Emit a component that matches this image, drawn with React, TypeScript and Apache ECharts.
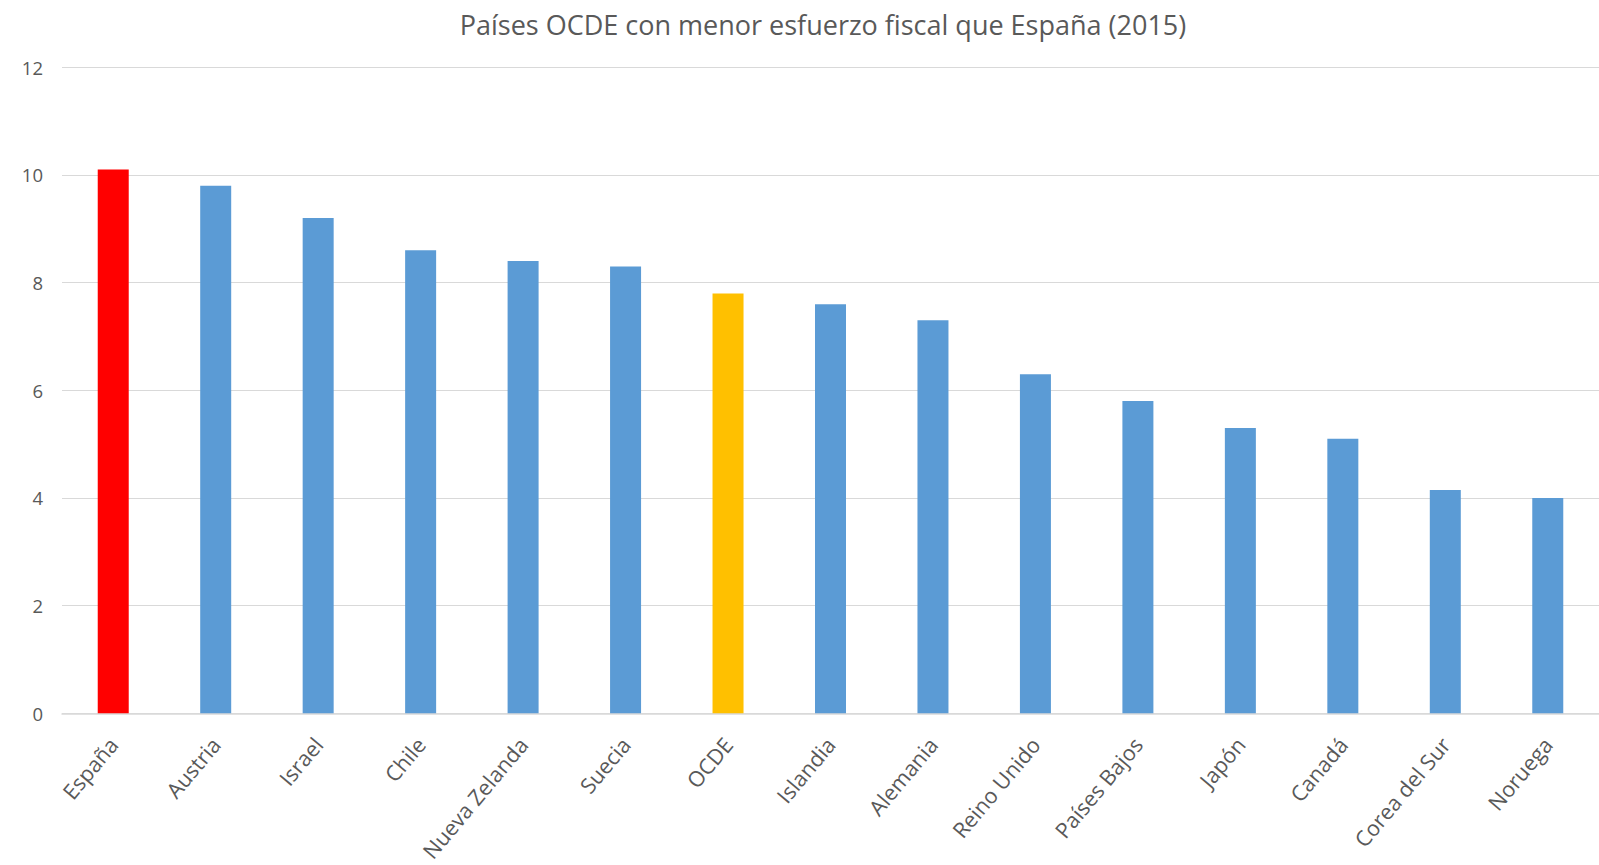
import React, { useEffect, useRef } from "react";
import * as echarts from "echarts";

const TITLE = "Países OCDE con menor esfuerzo fiscal que España (2015)";
const categories = [
  "España", "Austria", "Israel", "Chile", "Nueva Zelanda", "Suecia", "OCDE",
  "Islandia", "Alemania", "Reino Unido", "Países Bajos", "Japón", "Canadá",
  "Corea del Sur", "Noruega",
];
const values = [10.1, 9.8, 9.2, 8.6, 8.4, 8.3, 7.8, 7.6, 7.3, 6.3, 5.8, 5.3, 5.1, 4.15, 4.0];
const barColors = [
  "#ff0000", "#5b9bd5", "#5b9bd5", "#5b9bd5", "#5b9bd5", "#5b9bd5", "#ffc000",
  "#5b9bd5", "#5b9bd5", "#5b9bd5", "#5b9bd5", "#5b9bd5", "#5b9bd5", "#5b9bd5", "#5b9bd5",
];
const yMin = 0;
const yMax = 12;
const yStep = 2;

export default function App() {
  const ref = useRef<HTMLDivElement>(null);
  useEffect(() => {
    if (!ref.current) return;
    const chart = echarts.init(ref.current, undefined, { renderer: "svg" });
    chart.setOption({
      animation: false,
      backgroundColor: "#ffffff",
      title: {
        text: TITLE,
        left: 818,
        top: 6,
        textAlign: "center",
        textStyle: {
          fontFamily: "Open Sans",
          fontSize: 27,
          fontWeight: "normal",
          color: "#595959",
        },
      },
      grid: { left: 62, right: -14, top: 67.3, bottom: 151.7, containLabel: false },
      xAxis: {
        type: "category",
        data: categories,
        axisLine: { show: true, lineStyle: { color: "#d9d9d9", width: 1.5 } },
        axisTick: { show: false },
        axisLabel: {
          rotate: 50,
          interval: 0,
          margin: 27,
          color: "#595959",
          fontFamily: "Open Sans",
          fontSize: 21.5,
        },
      },
      yAxis: {
        type: "value",
        min: yMin,
        max: yMax,
        interval: yStep,
        axisLine: { show: false },
        axisTick: { show: false },
        axisLabel: {
          margin: 19,
          color: "#595959",
          fontFamily: "Open Sans",
          fontSize: 18.5,
        },
        splitLine: { lineStyle: { color: "#d9d9d9", width: 1 } },
      },
      series: [
        {
          type: "bar",
          barWidth: 31,
          data: values.map((v, i) => ({ value: v, itemStyle: { color: barColors[i] } })),
        },
      ],
    });
    return () => chart.dispose();
  }, []);
  return (
    <div
      ref={ref}
      style={{ position: "absolute", left: 0, top: 0, width: 1599, height: 865 }}
    />
  );
}
